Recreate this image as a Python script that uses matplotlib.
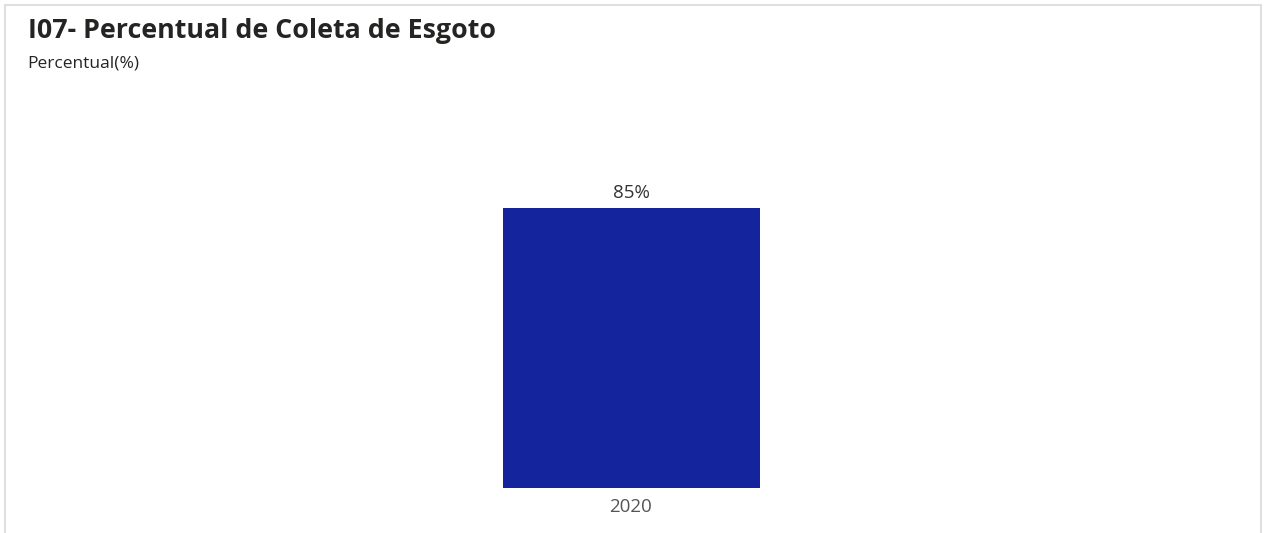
import matplotlib
matplotlib.use("Agg")
import matplotlib.pyplot as plt
from matplotlib.patches import Rectangle

plt.rcParams['font.family'] = ['Open Sans', 'DejaVu Sans']

anos = ['2020']
percentual = [85]
titulo = 'I07- Percentual de Coleta de Esgoto'
subtitulo = 'Percentual(%)'

W, H = 1266, 533
fig = plt.figure(figsize=(W / 100, H / 100), dpi=100)

# moldura cinza clara
fig.patches.append(Rectangle((5 / W, -0.01), 1256 / W, 1 - 5 / H + 0.01,
                             transform=fig.transFigure, fill=False,
                             edgecolor='#d9d9d9', linewidth=1.2))

fig.text(28 / W, 1 - 31 / H, titulo, fontsize=19.3, fontweight='bold',
         color='#252423', va='center', ha='left')
fig.text(27 / W, 1 - 63 / H, subtitulo, fontsize=12.5, color='#252423',
         va='center', ha='left')

bottom_px = 488
top_px = 130
ax = fig.add_axes([3 / W, (H - bottom_px) / H, 1256 / W, (bottom_px - top_px) / H])
ax.set_xlim(-0.5, 0.5)
ax.set_ylim(0, percentual[0] * (bottom_px - top_px) / (bottom_px - 208))

x = range(len(anos))
bars = ax.bar(x, percentual, width=257 / 1256, color='#14249c')
for b, v in zip(bars, percentual):
    ax.annotate(f'{v}%', (b.get_x() + b.get_width() / 2, v), xytext=(0, 4.5),
                textcoords='offset points', ha='center', va='bottom',
                fontsize=13.5, color='#333333')

ax.set_xticks(list(x))
ax.set_xticklabels(anos, fontsize=13.5, color='#555555')
ax.tick_params(axis='x', length=0, pad=7)
ax.set_yticks([])
for s in ax.spines.values():
    s.set_visible(False)
ax.patch.set_alpha(0)

fig.savefig('out.png', dpi=100)
